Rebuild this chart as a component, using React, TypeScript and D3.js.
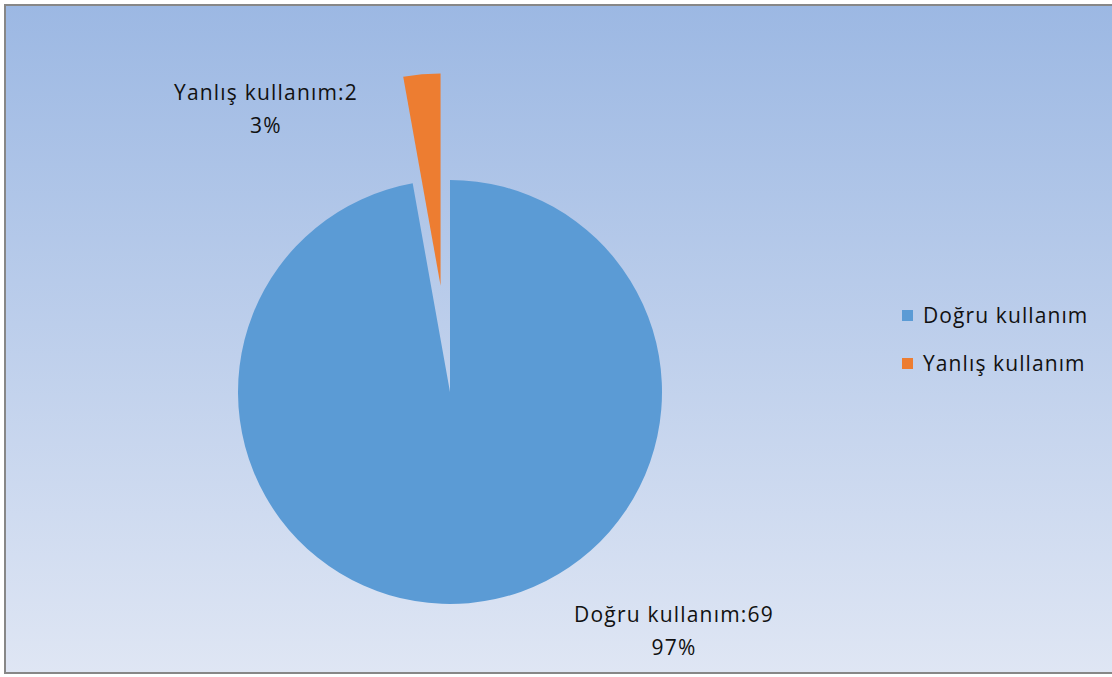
import React, { useEffect, useRef } from 'react';
import * as d3 from 'd3';

const categories = ['Doğru kullanım', 'Yanlış kullanım'];
const counts = [69, 2];
const percentLabels = ['97%', '3%'];
const sliceColors = ['#5B9BD5', '#ED7D31'];
const explode = [0, 107];

const W = 1112;
const H = 677;

export default function App() {
    const svgRef = useRef<SVGSVGElement>(null);

    useEffect(() => {
        document.body.style.margin = '0';
        if (!svgRef.current) return;
        const svg = d3.select(svgRef.current);
        svg.selectAll('*').remove();

        const defs = svg.append('defs');
        const grad = defs.append('linearGradient')
            .attr('id', 'bg')
            .attr('x1', 0).attr('y1', 0).attr('x2', 0).attr('y2', 1);
        grad.append('stop').attr('offset', '0%').attr('stop-color', '#9cb8e3');
        grad.append('stop').attr('offset', '100%').attr('stop-color', '#dfe6f4');

        svg.append('rect')
            .attr('x', 5).attr('y', 5)
            .attr('width', W - 4).attr('height', H - 9)
            .attr('fill', 'url(#bg)')
            .attr('stroke', '#878787')
            .attr('stroke-width', 2);

        const cx = 450;
        const cy = 392;
        const radius = 212;

        const pie = d3.pie<number>().sort(null).value(d => d);
        const arcs = pie(counts);
        const arc = d3.arc<d3.PieArcDatum<number>>().innerRadius(0).outerRadius(radius);

        const g = svg.append('g').attr('transform', `translate(${cx},${cy})`);

        g.selectAll('path')
            .data(arcs)
            .enter()
            .append('path')
            .attr('d', arc)
            .attr('fill', (_, i) => sliceColors[i])
            .attr('transform', (d, i) => {
                const mid = (d.startAngle + d.endAngle) / 2;
                const off = explode[i];
                return `translate(${Math.sin(mid) * off},${-Math.cos(mid) * off})`;
            });

        const font = "'Open Sans', sans-serif";

        // data labels
        const labelPos = [
            { x: 674, y: 622 },
            { x: 266, y: 100 },
        ];
        labelPos.forEach((p, i) => {
            const t = svg.append('text')
                .attr('x', p.x)
                .attr('y', p.y)
                .attr('text-anchor', 'middle')
                .style('font-family', font)
                .style('font-size', '21px')
                .style('letter-spacing', '1.2px')
                .style('fill', '#111');
            t.append('tspan').attr('x', p.x).text(`${categories[i]}:${counts[i]}`);
            t.append('tspan').attr('x', p.x).attr('dy', 33).text(percentLabels[i]);
        });

        // legend
        const legend = svg.append('g').attr('transform', 'translate(902,310)');
        categories.forEach((c, i) => {
            const row = legend.append('g').attr('transform', `translate(0,${i * 48})`);
            row.append('rect')
                .attr('width', 11).attr('height', 11)
                .attr('fill', sliceColors[i]);
            row.append('text')
                .attr('x', 21)
                .attr('y', 13)
                .style('font-family', font)
                .style('font-size', '21px')
                .style('letter-spacing', '1.1px')
                .style('fill', '#111')
                .text(c);
        });
    }, []);

    return <svg ref={svgRef} width={W} height={H} style={{ display: 'block' }} />;
}
